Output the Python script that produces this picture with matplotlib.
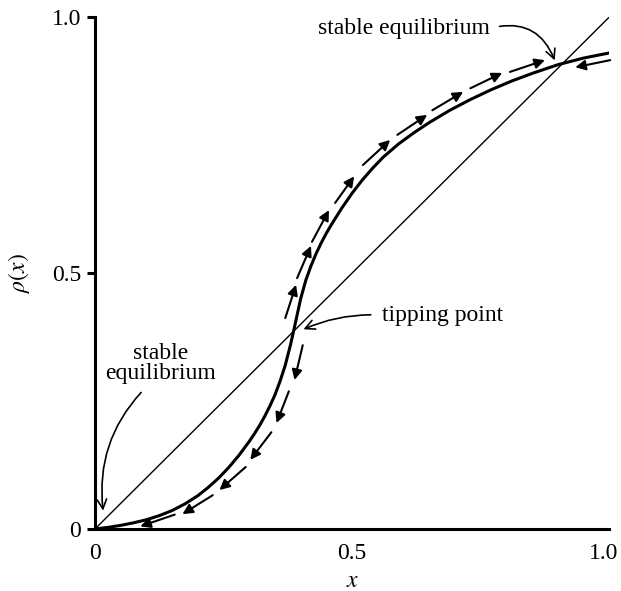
import numpy as np
import matplotlib.pyplot as plt
import matplotlib.transforms as mtransforms

plt.rcParams['font.family'] = ['Liberation Serif', 'DejaVu Serif']
plt.rcParams['mathtext.fontset'] = 'stix'

# curve rho(x)
curve_x = [0, 0.025, 0.05, 0.075, 0.1, 0.125, 0.15, 0.175, 0.2, 0.22, 0.24, 0.26, 0.28,
           0.30, 0.31, 0.32, 0.33, 0.34, 0.35, 0.36, 0.37, 0.38, 0.385, 0.39, 0.40,
           0.41, 0.42, 0.43, 0.44, 0.45, 0.46, 0.48, 0.50, 0.52, 0.54, 0.56, 0.59,
           0.62, 0.65, 0.69, 0.73, 0.77, 0.81, 0.85, 0.90, 0.95, 1.0]
curve_y = [0, 0.003, 0.007, 0.012, 0.018, 0.026, 0.036, 0.049, 0.065, 0.081, 0.099, 0.120, 0.144,
           0.171, 0.186, 0.202, 0.220, 0.240, 0.262, 0.289, 0.320, 0.359, 0.381, 0.404, 0.450,
           0.486, 0.514, 0.538, 0.559, 0.578, 0.595, 0.627, 0.656, 0.682, 0.705, 0.726, 0.752,
           0.774, 0.794, 0.818, 0.839, 0.858, 0.875, 0.890, 0.907, 0.920, 0.930]

# dashed flow arrows (start x, start y, end x, end y)
up_arrows = [(0.370, 0.412, 0.391, 0.477), (0.393, 0.490, 0.420, 0.553),
             (0.422, 0.561, 0.455, 0.623), (0.467, 0.637, 0.504, 0.689),
             (0.521, 0.711, 0.574, 0.760), (0.588, 0.770, 0.646, 0.809),
             (0.656, 0.818, 0.716, 0.854), (0.730, 0.861, 0.792, 0.891),
             (0.807, 0.893, 0.875, 0.916), (1.002, 0.916, 0.934, 0.902)]
down_arrows = [(0.404, 0.359, 0.388, 0.291), (0.377, 0.269, 0.353, 0.207),
               (0.343, 0.189, 0.302, 0.135), (0.293, 0.121, 0.242, 0.076),
               (0.229, 0.066, 0.170, 0.029), (0.155, 0.028, 0.088, 0.005)]

fig = plt.figure(figsize=(6.21, 5.91), dpi=100)
ax = fig.add_axes([0.153, 0.105, 0.828, 0.866])

ax.plot([0, 1], [0, 1], color='black', lw=1.0)
ax.plot(curve_x, curve_y, color='black', lw=2.2, solid_joinstyle='round', solid_capstyle='round')

for x0, y0, x1, y1 in up_arrows + down_arrows:
    ax.annotate('', xy=(x1, y1), xytext=(x0, y0),
                arrowprops=dict(arrowstyle='-|>', color='black', lw=1.5,
                                mutation_scale=15, shrinkA=0, shrinkB=0))

# annotations
ax.annotate('stable equilibrium', xy=(0.895, 0.913), xytext=(0.768, 0.978),
            ha='right', va='center', fontsize=17,
            arrowprops=dict(arrowstyle='->', color='black', lw=1.2, relpos=(1, 0.5),
                            connectionstyle='arc3,rad=-0.45', shrinkA=5, shrinkB=1))
ax.annotate('tipping point', xy=(0.403, 0.389), xytext=(0.558, 0.418),
            ha='left', va='center', fontsize=17,
            arrowprops=dict(arrowstyle='->', color='black', lw=1.2, relpos=(0, 0.5),
                            connectionstyle='arc3,rad=0.12', shrinkA=6, shrinkB=1))
ax.annotate('stable\nequilibrium', xy=(0.016, 0.033), xytext=(0.128, 0.324),
            ha='center', va='center', fontsize=17, linespacing=0.95,
            arrowprops=dict(arrowstyle='->', color='black', lw=1.2, relpos=(0.4, 0),
                            connectionstyle='arc3,rad=0.25', shrinkA=6, shrinkB=1))

ax.set_xlim(0, 1)
ax.set_ylim(0, 1)
for s in ['top', 'right']:
    ax.spines[s].set_visible(False)
for s in ['left', 'bottom']:
    ax.spines[s].set_linewidth(2.2)

ax.set_xticks([0, 0.5, 1.0])
ax.set_xticklabels(['0', '0.5', '1.0'])
ax.set_yticks([0, 0.5, 1.0])
ax.set_yticklabels(['0', '0.5', '1.0'])
ax.tick_params(axis='x', length=0, pad=10, labelsize=17)
ax.tick_params(axis='y', length=6, width=2.2, pad=4, labelsize=17)
# keep the last x label inside the picture
last = ax.get_xticklabels()[-1]
last.set_transform(last.get_transform() + mtransforms.ScaledTranslation(-4 / 72, 0, fig.dpi_scale_trans))

ax.set_xlabel('$x$', fontsize=17)
ax.set_ylabel(r'$\rho(x)$', fontsize=17)
ax.xaxis.set_label_coords(0.5, -0.082)
ax.yaxis.set_label_coords(-0.122, 0.5)

fig.savefig('out.png', dpi=100)
